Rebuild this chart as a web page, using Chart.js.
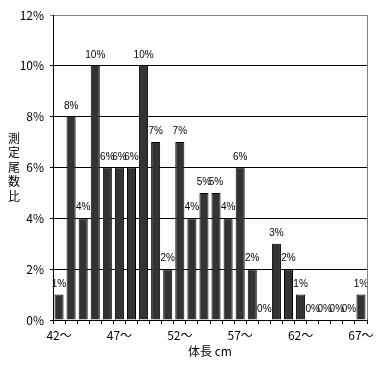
<!DOCTYPE html>
<html lang="ja">
<head>
<meta charset="UTF-8">
<title>体長別 測定尾数比</title>
<script src="https://cdn.jsdelivr.net/npm/chart.js"></script>
<style>
    html, body { margin: 0; padding: 0; background: #fff; }
    #wrap { position: relative; width: 382px; height: 365px; }
</style>
</head>
<body>
<div id="wrap"><canvas id="chart" width="382" height="365"></canvas></div>
<script>
// 体長 (cm) classes and share of measured fish (%)
const lengths = [42, 43, 44, 45, 46, 47, 48, 49, 50, 51, 52, 53, 54, 55, 56, 57, 58, 59, 60, 61, 62, 63, 64, 65, 66, 67];
const shares = [1, 8, 4, 10, 6, 6, 6, 10, 7, 2, 7, 4, 5, 5, 4, 6, 2, 0, 3, 2, 1, 0, 0, 0, 0, 1];
const yTicks = [0, 2, 4, 6, 8, 10, 12];

const labels = lengths.map(l => l + '〜');
const jpFont = '"Noto Sans CJK JP", "Liberation Sans", sans-serif';

// value labels above bars, vertical y title, gray right frame
const extras = {
    id: 'extras',
    afterDatasetsDraw(chart) {
        const ctx = chart.ctx;
        const meta = chart.getDatasetMeta(0);
        ctx.save();
        ctx.fillStyle = '#000';
        ctx.font = '10px "Liberation Sans", sans-serif';
        ctx.textAlign = 'center';
        ctx.textBaseline = 'alphabetic';
        meta.data.forEach((bar, i) => {
            ctx.fillText(shares[i] + '%', bar.x, bar.y - 8);
        });
        ctx.restore();
    },
    afterDraw(chart) {
        const ctx = chart.ctx;
        const a = chart.chartArea;
        ctx.save();
        ctx.strokeStyle = '#808080';
        ctx.lineWidth = 1;
        ctx.beginPath();
        ctx.moveTo(Math.round(a.right) + 0.5, a.top);
        ctx.lineTo(Math.round(a.right) + 0.5, a.bottom);
        ctx.stroke();
        // y axis title, stacked characters
        ctx.fillStyle = '#000';
        ctx.font = '12px ' + jpFont;
        ctx.textAlign = 'center';
        ctx.textBaseline = 'middle';
        const title = '測定尾数比';
        for (let i = 0; i < title.length; i++) {
            ctx.fillText(title[i], 14, 138 + i * 14.5);
        }
        ctx.restore();
    }
};

new Chart(document.getElementById('chart'), {
    type: 'bar',
    data: {
        labels: labels,
        datasets: [{
            data: shares,
            backgroundColor: '#333333',
            borderColor: '#000000',
            borderWidth: 1,
            barPercentage: 0.75,
            categoryPercentage: 1.0
        }]
    },
    options: {
        responsive: false,
        animation: false,
        layout: { padding: { top: 15, right: 15, left: 0, bottom: 0 } },
        plugins: {
            legend: { display: false },
            tooltip: { enabled: false }
        },
        scales: {
            x: {
                afterFit: s => { s.height = 45; },
                border: { color: '#000', width: 1 },
                grid: {
                    offset: true,
                    drawOnChartArea: false,
                    color: '#000',
                    tickLength: 4
                },
                ticks: {
                    autoSkip: false,
                    maxRotation: 0,
                    padding: 4,
                    color: '#000',
                    font: { family: jpFont, size: 12 },
                    callback: (v, i) => (i % 5 === 0 ? labels[i] : '')
                },
                title: {
                    display: true,
                    text: '体長 cm',
                    color: '#000',
                    font: { family: jpFont, size: 12 },
                    padding: { top: 2, bottom: 6 }
                }
            },
            y: {
                min: 0,
                max: 12,
                afterFit: s => { s.width = 53; },
                afterBuildTicks: s => { s.ticks = yTicks.map(v => ({ value: v })); },
                border: { color: '#000', width: 1 },
                grid: {
                    color: c => (c.tick && c.tick.value === 12 ? '#808080' : '#000'),
                    tickLength: 3
                },
                ticks: {
                    padding: 6,
                    color: '#000',
                    font: { family: jpFont, size: 12 },
                    callback: v => v + '%'
                }
            }
        }
    },
    plugins: [extras]
});
</script>
</body>
</html>
